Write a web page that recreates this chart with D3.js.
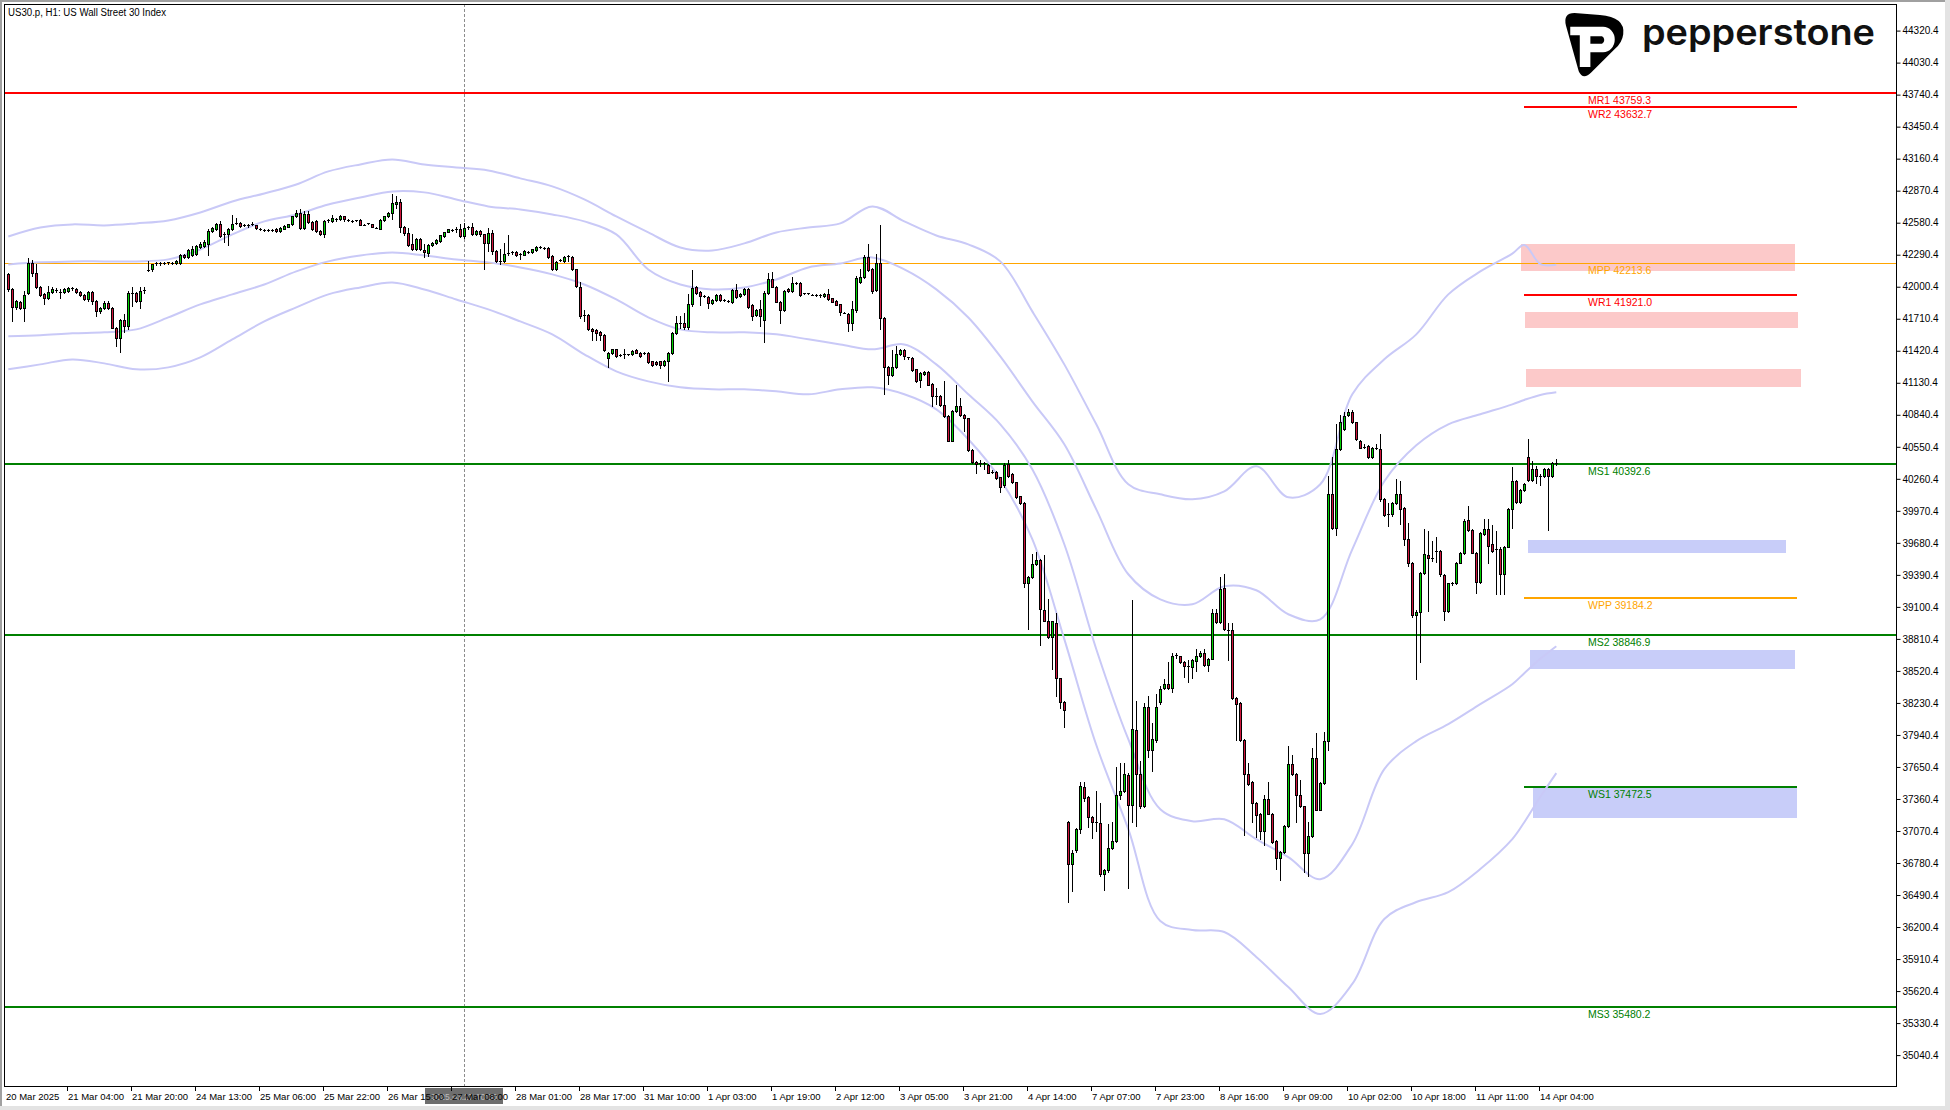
<!DOCTYPE html>
<html><head><meta charset="utf-8">
<script src="https://cdn.jsdelivr.net/npm/d3@7"></script>
<style>html,body{margin:0;padding:0;background:#fff;overflow:hidden}svg{display:block}</style>
</head><body>
<script>
// ---------------- DATA ----------------
const chartTitle = "US30.p, H1:  US Wall Street 30 Index";
const yTickLabels = ["44320.4","44030.4","43740.4","43450.4","43160.4","42870.4","42580.4","42290.4","42000.4","41710.4","41420.4","41130.4","40840.4","40550.4","40260.4","39970.4","39680.4","39390.4","39100.4","38810.4","38520.4","38230.4","37940.4","37650.4","37360.4","37070.4","36780.4","36490.4","36200.4","35910.4","35620.4","35330.4","35040.4"];
const xTickLabels = ["20 Mar 2025","21 Mar 04:00","21 Mar 20:00","24 Mar 13:00","25 Mar 06:00","25 Mar 22:00","26 Mar 15:00","27 Mar 08:00","28 Mar 01:00","28 Mar 17:00","31 Mar 10:00","1 Apr 03:00","1 Apr 19:00","2 Apr 12:00","3 Apr 05:00","3 Apr 21:00","4 Apr 14:00","7 Apr 07:00","7 Apr 23:00","8 Apr 16:00","9 Apr 09:00","10 Apr 02:00","10 Apr 18:00","11 Apr 11:00","14 Apr 04:00"];
const xTickBars = [0,16,32,48,64,80,96,112,128,144,160,176,192,208,224,240,256,272,288,304,320,336,352,368,384];
const crosshairBar = 114;
const crosshairLabel = "2025.03.27 10:00";

// hourly candles: [open, high, low, close]
const candles = [
[42112,42127,41961,41976],[41982,41990,41690,41820],[41820,41880,41800,41870],[41862,41870,41800,41808],[41808,41961,41690,41922],
[41940,42263,41930,42212],[42212,42240,42100,42127],[42127,42210,41985,42000],[42000,42010,41915,41925],[41930,41940,41840,41900],
[41900,42006,41890,41955],[41955,42000,41945,41976],[41970,41985,41950,41960],[41952,41976,41900,41950],[41950,41985,41940,41976],
[41962,42000,41955,41990],[41988,41995,41975,41982],[41982,41990,41945,41952],[41952,41960,41915,41922],[41925,41930,41880,41892],
[41886,41960,41875,41952],[41955,41960,41840,41870],[41870,41880,41735,41780],[41780,41815,41760,41810],[41810,41870,41800,41850],
[41850,41870,41795,41810],[41810,41820,41625,41630],[41630,41640,41464,41540],[41540,41710,41410,41700],[41700,41750,41590,41645],
[41645,41961,41614,41946],[41940,42000,41826,41935],[41940,41950,41860,41870],[41870,42000,41810,41961],[41960,42000,41945,41970],
[42152,42233,42142,42150],[42157,42210,42145,42203],[42203,42225,42195,42218],[42212,42225,42200,42210],[42212,42222,42205,42215],
[42218,42228,42210,42220],[42215,42222,42205,42212],[42218,42240,42210,42233],[42218,42293,42210,42284],[42290,42300,42265,42272],
[42272,42345,42265,42330],[42284,42369,42275,42344],[42293,42380,42285,42369],[42363,42405,42355,42390],[42369,42423,42360,42405],
[42390,42520,42284,42505],[42505,42545,42495,42535],[42525,42580,42515,42565],[42565,42595,42450,42459],[42475,42495,42405,42470],
[42475,42535,42375,42525],[42525,42646,42515,42565],[42580,42625,42570,42582],[42580,42585,42540,42550],[42558,42570,42548,42560],
[42555,42565,42545,42553],[42565,42585,42555,42567],[42558,42562,42520,42528],[42522,42530,42512,42520],[42517,42525,42508,42515],
[42514,42522,42505,42512],[42514,42520,42505,42516],[42526,42532,42495,42502],[42505,42540,42498,42535],[42526,42556,42520,42550],
[42544,42570,42538,42565],[42565,42645,42560,42640],[42640,42692,42630,42670],[42665,42707,42525,42535],[42535,42686,42525,42662],
[42662,42686,42575,42586],[42586,42595,42510,42520],[42595,42605,42495,42505],[42505,42510,42465,42480],[42475,42605,42453,42595],
[42598,42610,42590,42602],[42595,42646,42588,42625],[42612,42620,42600,42608],[42610,42650,42605,42640],[42640,42645,42600,42610],
[42606,42614,42598,42604],[42597,42603,42588,42595],[42600,42608,42594,42601],[42604,42610,42555,42562],[42563,42570,42555,42562],
[42574,42580,42566,42575],[42565,42572,42538,42544],[42536,42542,42528,42535],[42526,42610,42520,42604],[42604,42645,42598,42640],
[42640,42675,42635,42670],
[42670,42836,42610,42755],[42746,42821,42716,42770],[42770,42791,42495,42544],[42544,42550,42470,42483],[42490,42530,42365,42375],
[42384,42474,42330,42338],[42338,42445,42330,42435],[42435,42445,42330,42340],[42335,42384,42272,42318],[42308,42390,42278,42378],
[42378,42405,42370,42399],[42393,42430,42388,42423],[42414,42470,42408,42465],[42459,42500,42452,42495],[42498,42526,42492,42520],
[42514,42525,42505,42516],[42520,42540,42497,42522],[42526,42565,42450,42459],[42459,42580,42440,42529],[42529,42552,42520,42544],
[42544,42574,42465,42474],[42474,42515,42465,42504],[42504,42512,42462,42474],[42474,42480,42157,42399],[42399,42529,42323,42483],
[42483,42510,42300,42323],[42323,42330,42225,42233],[42233,42338,42203,42230],[42233,42399,42228,42293],[42293,42465,42290,42308],
[42310,42320,42300,42312],[42314,42320,42280,42290],[42293,42305,42250,42294],[42290,42330,42285,42323],[42318,42325,42305,42314],
[42314,42345,42308,42338],[42332,42370,42326,42363],[42357,42365,42350,42357],[42351,42360,42345,42351],[42354,42360,42265,42272],
[42278,42285,42150,42157],[42157,42235,42150,42227],[42235,42248,42230,42239],[42233,42280,42226,42272],[42276,42285,42230,42278],
[42272,42280,42150,42157],[42157,42165,42000,42006],[42000,42043,41720,41735],[41738,41790,41690,41740],[41741,41750,41605,41614],
[41620,41625,41518,41600],[41608,41615,41518,41584],[41590,41597,41518,41560],[41566,41575,41420,41427],
[41358,41410,41276,41397],[41397,41440,41390,41433],[41433,41440,41365,41373],[41383,41392,41375,41385],[41392,41433,41358,41394],
[41386,41395,41378,41388],[41388,41428,41380,41421],[41427,41434,41396,41403],[41403,41410,41365,41373],[41398,41405,41390,41400],
[41403,41410,41310,41318],[41324,41330,41280,41288],[41318,41325,41290,41297],[41324,41330,41260,41288],[41288,41340,41280,41331],
[41331,41410,41147,41397],[41397,41590,41390,41584],[41584,41735,41570,41675],[41675,41735,41630,41670],[41675,41765,41620,41638],
[41638,41931,41620,41840],[41840,42151,41825,41991],[42000,42010,41930,41940],[41955,41965,41835,41916],[41914,41925,41905,41916],
[41910,41918,41810,41856],[41850,41888,41840,41880],[41880,41935,41872,41928],[41928,41934,41870,41880],[41877,41885,41870,41878],
[41868,41876,41860,41868],[41862,41978,41855,41970],[41970,42028,41900,41907],[41916,41945,41905,41934],[41934,41990,41928,41976],
[41976,41985,41810,41816],[41834,41840,41699,41735],[41741,41795,41735,41786],[41795,41880,41645,41735],[41699,41960,41500,41940],
[41940,42121,41930,42067],[42067,42133,41995,42000],[42000,42008,41860,41865],[41865,41870,41675,41790],[41790,41970,41780,41961],
[41982,41990,41950,41961],[41961,42091,41955,42037],[42037,42045,42028,42037],[42037,42040,41915,41922],[41938,41945,41930,41940],
[41940,41948,41932,41938],
[41929,41936,41922,41929],[41925,41932,41918,41925],[41929,41934,41905,41912],[41912,41945,41906,41938],[41938,41980,41880,41886],
[41895,41900,41858,41865],[41873,41878,41832,41839],[41843,41848,41745,41775],[41766,41775,41758,41766],[41757,41762,41603,41671],
[41671,41873,41611,41796],[41787,42101,41770,42075],[42045,42161,42035,42088],[42088,42289,42080,42272],[42272,42388,42140,42152],
[42161,42170,41945,41959],[41972,42294,41965,42217],[42217,42560,41616,41715],[41715,41730,41028,41272],[41272,41280,41122,41199],
[41199,41423,41190,41272],[41272,41466,41265,41388],[41388,41440,41380,41431],[41431,41440,41345,41371],[41360,41368,41350,41358],
[41358,41365,41235,41242],[41251,41258,41138,41144],[41156,41225,41088,41216],[41208,41238,41200,41229],[41229,41236,41108,41114],
[41122,41128,40916,41015],[41011,41080,40940,41011],[41015,41020,40920,40929],[40929,41144,40822,40830],[40830,40838,40600,40607],
[40607,40880,40600,40877],[40877,41114,40870,40916],[40916,40995,40828,40835],[40839,40845,40693,40809],[40809,40815,40515,40522],
[40522,40530,40405,40414],[40414,40420,40316,40393],[40401,40430,40380,40401],[40400,40410,40350,40398],[40384,40392,40310,40316],
[40324,40340,40315,40324],[40324,40330,40258,40264],[40273,40280,40140,40187],[40200,40400,40190,40384],[40393,40427,40280,40286],
[40307,40315,40225,40230],[40230,40236,40087,40093],[40101,40108,40030,40037],[40041,40048,39280,39320],[39320,39380,38900,39372],
[39372,39578,39360,39492],[39492,39599,39480,39526],[39526,39535,38754,39084],[39071,39569,38970,38977],[38977,39170,38820,38827],
[38827,38975,38539,38968],[38955,39041,38290,38453],[38453,38460,38183,38239],[38239,38245,38011,38170],
[37153,37160,36424,36767],[36767,36900,36531,36874],[36896,37100,36880,37089],[37089,37518,37050,37475],[37466,37518,37340,37368],
[37381,37390,37110,37196],[37196,37205,37003,37153],[37153,37432,37068,37150],[37140,37325,36660,36681],[36681,36725,36540,36715],
[36715,37132,36700,36917],[36917,37153,36910,36981],[36981,37646,36975,37397],
[37397,37689,37360,37432],[37432,37689,37420,37589],[37582,37600,36550,37310],[37310,39163,37150,37991],[37983,38250,37112,37590],
[37590,37704,37280,37295],[37295,38227,37285,38189],[38189,38296,37742,37800],[37800,38048,37616,37907],[37895,38315,37880,38189],
[38239,38380,38220,38361],[38365,38449,38355,38400],[38403,38602,38355,38365],[38365,38686,38330,38659],[38659,38686,38640,38662],
[38651,38660,38595,38602],[38602,38610,38468,38563],[38563,38620,38418,38565],[38556,38630,38460,38621],[38610,38716,38520,38659],
[38659,38700,38650,38686],[38686,38716,38565,38571],[38571,38640,38520,38632],[38632,39079,38625,39041],[39041,39079,38955,38964],
[38964,39373,38955,39263],[39270,39396,38890,38900],[38888,38950,38621,38880],[38888,38953,38270,38277],[38277,38285,37895,38220],
[38227,38235,37890,37895],[37895,37905,37036,37590],[37590,37685,37485,37494],[37513,37520,37150,37322],[37322,37330,37017,37219],
[37227,37235,36998,37074],[37074,37398,36940,37360],[37360,37513,37220,37227],[37227,37235,36960,36967],[36979,36985,36723,36826],
[36826,36890,36623,36883],[36883,37125,36875,37120],[37112,37838,37105,37677],[37677,37761,37580,37589],[37589,37595,37150,37398],
[37398,37532,37290,37295],[37295,37300,36700,36875],[36875,37150,36661,37028],[37028,37819,37020,37731],[37731,37960,37260,37265],
[37265,37510,37258,37502],[37502,37971,37495,37883],[37883,40290,37800,40122],[40122,40454,39810,39816],[39816,40760,39748,40531],
[40531,40836,40525,40779],[40710,40870,40700,40825],[40836,40894,40830,40863],[40863,40886,40765,40771],[40771,40778,40612,40619],
[40607,40612,40536,40542],[40550,40575,40540,40550],[40558,40565,40448,40454],[40454,40550,40448,40542],[40542,40580,40530,40542],
[40533,40664,40060,40075],[40075,40085,39920,39930],[39939,40040,39830,39939],[39939,40050,39925,40044],[40044,40256,40035,40120],
[40120,40240,39848,39990],[39999,40008,39660,39718],[39712,39863,39471,39495],[39495,39505,39012,39024],[39024,39070,38451,39058],
[39058,39420,38602,39411],[39411,39803,39400,39577],[39568,39788,39063,39546],[39543,39700,39520,39543],[39607,39730,39505,39607],
[39607,39615,39380,39396],[39387,39395,38982,39063],[39063,39320,39050,39320],[39320,39330,39300,39311],[39314,39510,39305,39501],
[39501,39595,39495,39586],[39586,39900,39580,39878],[39887,40014,39790,39797],[39797,39805,39585,39592],[39592,39600,39229,39326],
[39326,39775,39320,39767],[39758,39894,39750,39809],[39809,39894,39495,39652],[39667,39840,39600,39607],[39622,39790,39214,39622],
[39628,39640,39214,39396],[39396,39652,39214,39646],[39646,40000,39640,39990],[39990,40371,39818,40241],[40241,40250,40045,40051],
[40051,40165,40045,40159],[40159,40218,40152,40210],
[40461,40624,40240,40250],[40250,40422,40243,40346],[40352,40380,40220,40286],[40286,40300,40200,40286],[40286,40355,40280,40346],
[40352,40360,39797,40286],[40286,40415,40280,40407],[40407,40437,40385,40392]
];

// envelope bands sampled at these bar indices
const bandBars = [0,8,16,24,32,40,48,56,64,72,80,88,96,104,112,120,128,136,144,152,160,168,176,184,192,200,208,216,224,232,240,248,256,264,272,280,288,296,304,312,320,328,336,344,352,360,368,376,379,383,387];
const bandOuterUpper = [42456,42537,42565,42556,42574,42601,42673,42773,42845,42927,43045,43108,43153,43108,43081,43054,42982,42909,42791,42637,42492,42356,42329,42393,42492,42537,42574,42728,42592,42465,42384,42230,41777,41297,40754,40211,40120,40075,40147,40374,40093,40211,41026,41343,41569,41931,42139,42300,42378,42206,42200];
const bandInnerUpper = [42202,42221,42230,42230,42230,42248,42338,42474,42592,42655,42746,42809,42864,42855,42791,42728,42700,42655,42592,42474,42157,42021,41976,41994,42066,42175,42211,42266,42157,41976,41722,41369,40962,40573,39984,39396,39169,39124,39287,39251,39034,38988,39622,40238,40564,40754,40845,40935,40975,41020,41044];
const bandInnerLower = [41551,41560,41578,41587,41614,41723,41840,41931,42021,42139,42230,42284,42311,42284,42248,42221,42175,42112,42021,41885,41723,41614,41587,41587,41569,41524,41478,41433,41478,41297,41026,40754,40347,39668,38717,37902,37268,37159,37177,36996,36833,36634,36951,37630,37884,38038,38219,38400,38500,38630,38744];
const bandOuterLower = [41252,41297,41342,41306,41252,41270,41360,41523,41686,41813,41931,41994,42039,41976,41885,41795,41686,41569,41388,41234,41143,41089,41071,41071,41053,41026,41071,41089,41026,40890,40619,40257,39714,38808,37849,37088,36255,36173,36155,35929,35657,35413,35685,36273,36427,36517,36726,36997,37150,37380,37595];

// pivot levels
const levelNames  = ["MR1","WR2","MPP","WR1","MS1","WPP","MS2","WS1","MS3"];
const levelValues = [43759.3,43632.7,42213.6,41921.0,40392.6,39184.2,38846.9,37472.5,35480.2];
// supply / demand zones [upper price, lower price]
const zoneKinds = ["supply","supply","supply","demand","demand","demand"];
const zoneUpper = [42387,41771,41255,39706,38710,37460];
const zoneLower = [42143,41626,41092,39588,38538,37188];

// ---------------- LAYOUT / STYLE ----------------
const W = 1950, H = 1110;
const frame = {left:4, top:4, right:1896, bottom:1086};
const shortLine = {x1:1524, x2:1797};
const zoneX = [[1521,1795],[1525,1798],[1526,1801],[1528,1786],[1530,1795],[1533,1797]];
const labelX = 1588;
const colors = {up:"#00d100", down:"#d0143c", band:"#c9c9f7", supply:"#fcc9c9", demand:"#c8cdf9",
  R:"#ff0000", P:"#ffa500", S:"#008000"};
const FONT = "'Liberation Sans', Arial, sans-serif";

const svg = d3.select("body").append("svg").attr("width", W).attr("height", H)
  .style("font-family", FONT);
svg.append("rect").attr("width", W).attr("height", H).attr("fill", "#fff");
// window chrome
svg.append("rect").attr("x",0).attr("y",0).attr("width",W).attr("height",2).attr("fill","#a0a0a0");
svg.append("rect").attr("x",0).attr("y",0).attr("width",2).attr("height",H).attr("fill","#a0a0a0");
svg.append("rect").attr("x",W-5).attr("y",0).attr("width",5).attr("height",H).attr("fill","#e3e3e3");
svg.append("rect").attr("x",0).attr("y",H-4).attr("width",W).attr("height",4).attr("fill","#e3e3e3");

const x = d3.scaleLinear().domain([0, 1]).range([8.3, 12.3]);
const y = d3.scaleLinear().domain([44320.4, 35040.4]).range([30.6, 1055.1]);

svg.append("defs").append("clipPath").attr("id","plotclip").append("rect")
  .attr("x", frame.left).attr("y", frame.top)
  .attr("width", frame.right - frame.left).attr("height", frame.bottom - frame.top);
const plot = svg.append("g").attr("clip-path","url(#plotclip)");

// zones
zoneUpper.forEach((u,i)=>{
  const y1 = Math.round(y(u)), y2 = Math.round(y(zoneLower[i]));
  plot.append("rect").attr("x", zoneX[i][0]).attr("y", y1)
    .attr("width", zoneX[i][1]-zoneX[i][0]).attr("height", y2-y1)
    .attr("fill", colors[zoneKinds[i]]);
});

// crosshair dotted vertical line
const cxp = Math.round(x(crosshairBar));
plot.append("line").attr("x1", cxp+0.5).attr("x2", cxp+0.5)
  .attr("y1", frame.top).attr("y2", frame.bottom)
  .attr("stroke","#8c8c8c").attr("stroke-width",1).attr("stroke-dasharray","3,2");

// pivot levels
levelNames.forEach((name,i)=>{
  const v = levelValues[i];
  const kind = name.slice(-2,-1) === "R" ? "R" : (name.slice(-2) === "PP" ? "P" : "S");
  const col = colors[kind];
  const full = name[0] === "M";
  const yy = Math.round(y(v));
  const w = (name === "MPP") ? 1 : 2;
  plot.append("line")
    .attr("x1", full ? frame.left : shortLine.x1).attr("x2", full ? frame.right : shortLine.x2)
    .attr("y1", yy + (w===1?0.5:0)).attr("y2", yy + (w===1?0.5:0))
    .attr("stroke", col).attr("stroke-width", w);
  plot.append("text").attr("x", labelX).attr("y", yy + 11)
    .attr("font-size", "10.5px").attr("fill", col)
    .text(name + " " + v.toFixed(1));
});

// bands
const bandLine = d3.line().x((d,i)=>x(bandBars[i])).y(d=>y(d)).curve(d3.curveCatmullRom.alpha(0.5));
[bandOuterUpper, bandInnerUpper, bandInnerLower, bandOuterLower].forEach(b=>{
  plot.append("path").attr("d", bandLine(b)).attr("fill","none")
    .attr("stroke", colors.band).attr("stroke-width", 2);
});

// candles
const cg = plot.append("g").attr("shape-rendering","crispEdges");
candles.forEach((d,i)=>{
  const [o,h,l,c] = d;
  const cx = Math.round(x(i));
  const yh = Math.round(y(h)), yl = Math.round(y(l));
  const yo = Math.round(y(o)), yc = Math.round(y(c));
  const top = Math.min(yo,yc), bot = Math.max(yo,yc);
  cg.append("rect").attr("x", cx).attr("y", yh).attr("width", 1).attr("height", Math.max(1, yl-yh+1)).attr("fill","#000");
  if (bot - top <= 1) {
    cg.append("rect").attr("x", cx-1).attr("y", top).attr("width", 3).attr("height", 1).attr("fill","#000");
  } else {
    cg.append("rect").attr("x", cx-1).attr("y", top).attr("width", 3).attr("height", bot-top+1).attr("fill","#000");
    cg.append("rect").attr("x", cx).attr("y", top+1).attr("width", 1).attr("height", bot-top-1)
      .attr("fill", c >= o ? colors.up : colors.down);
  }
});

// frame
svg.append("rect").attr("x", frame.left+0.5).attr("y", frame.top+0.5)
  .attr("width", frame.right-frame.left).attr("height", frame.bottom-frame.top)
  .attr("fill","none").attr("stroke","#000").attr("stroke-width",1);

// right price axis
const yAxis = d3.axisRight(y).tickValues(yTickLabels.map(Number))
  .tickFormat((d,i)=>yTickLabels[i]).tickSize(4).tickPadding(2);
const ya = svg.append("g").attr("transform", `translate(${frame.right+0.5},0)`).call(yAxis);
ya.select(".domain").remove();
ya.selectAll("text").attr("font-family", FONT).attr("font-size","10px").attr("fill","#000");
ya.selectAll("line").attr("stroke","#000");

// crosshair time label box (under the regular time labels)
svg.append("rect").attr("x", cxp-39).attr("y", 1088).attr("width", 78).attr("height", 16).attr("fill","#6e6e6e");
svg.append("text").attr("x", cxp).attr("y", 1100).attr("text-anchor","middle")
  .attr("font-size","8.5px").attr("fill","#bdbdbd").text(crosshairLabel);

// time axis
xTickLabels.forEach((t,k)=>{
  const tx = k === 0 ? 5 : Math.round(x(xTickBars[k]) - 5.4);
  if (k > 0) svg.append("line").attr("x1", tx+0.5).attr("x2", tx+0.5)
      .attr("y1", frame.bottom).attr("y2", frame.bottom+5).attr("stroke","#000");
  svg.append("text").attr("x", tx+1).attr("y", 1100).attr("font-size","9.5px").attr("fill","#000").text(t);
});

// title
svg.append("text").attr("x", 8).attr("y", 16).attr("font-size","10px").attr("fill","#000")
  .attr("textLength", 158).attr("lengthAdjust","spacingAndGlyphs").text(chartTitle);

// pepperstone logo
const logo = svg.append("g").attr("transform","translate(1566,13) scale(1.06) translate(-1574,-13)");
logo.append("path").attr("fill","#000")
  .attr("d","M1582,13 L1606,15 Q1630,17 1628,33 Q1627,41 1620,47 L1598,69 Q1590,77 1586,68 L1574,25 Q1571,13 1582,13 Z");
logo.append("path").attr("fill","#fff")
  .attr("d","M1578,26 H1609 A11,12 0 0 1 1609,50 H1597 V64 H1587 V34 H1578 Z");
logo.append("path").attr("fill","#000")
  .attr("d","M1597,35 H1608 A4,4 0 0 1 1608,42 H1597 Z");
svg.append("text").attr("x", 1642).attr("y", 45).attr("font-family","Inter, 'Open Sans', sans-serif")
  .attr("font-weight", 600).attr("font-size","36px").attr("fill","#111")
  .attr("textLength", 233).attr("lengthAdjust","spacingAndGlyphs").text("pepperstone");
</script>
</body></html>
